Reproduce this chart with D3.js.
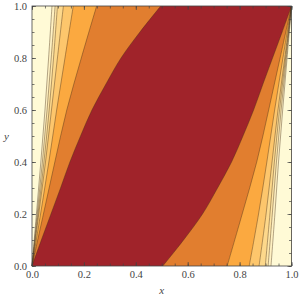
<!DOCTYPE html>
<html>
<head>
<meta charset="utf-8">
<script src="https://cdn.jsdelivr.net/npm/d3@7"></script>
<style>
  body { margin: 0; background: #fff; }
  .tick text { font-family: "Liberation Serif", serif; font-size: 10.5px; fill: #444; }
  .axisLabel { font-family: "Liberation Serif", serif; font-style: italic; font-size: 11px; fill: #444; }
</style>
</head>
<body>
<div id="chart"></div>
<script>
// SVG window
var svgWidth = 300;
var svgHeight = 300;

var margin = { top: 6, right: 8.5, bottom: 34, left: 32 };

var width = svgWidth - margin.left - margin.right;
var height = svgHeight - margin.top - margin.bottom;

// Contour boundaries (x position at each y level)
var yLevels = [0, 0.2, 0.4, 0.6, 0.8, 1.0];

// left side lines, from outermost (pale) to innermost
var leftL1 = [0, 0.017, 0.034, 0.050, 0.064, 0.077];
var leftL2 = [0, 0.020, 0.040, 0.058, 0.074, 0.089];
var leftL3 = [0, 0.023, 0.046, 0.066, 0.083, 0.098];
var leftL4 = [0, 0.026, 0.052, 0.075, 0.098, 0.121];
var leftL5 = [0, 0.033, 0.065, 0.095, 0.127, 0.159];
var leftL6 = [0, 0.044, 0.088, 0.134, 0.190, 0.249];

// right side lines
var rightL1 = [0.921, 0.936, 0.950, 0.966, 0.983, 1];
var rightL2 = [0.910, 0.926, 0.942, 0.960, 0.980, 1];
var rightL3 = [0.899, 0.917, 0.934, 0.954, 0.977, 1];
var rightL4 = [0.875, 0.902, 0.925, 0.948, 0.974, 1];
var rightL5 = [0.837, 0.873, 0.905, 0.935, 0.967, 1];
var rightL6 = [0.752, 0.810, 0.866, 0.912, 0.956, 1];

// red region boundaries (finer)
var redY = [0, 0.1, 0.2, 0.3, 0.4, 0.5, 0.6, 0.7, 0.8, 0.9, 1.0];
var redLeftX = [0, 0.036, 0.073, 0.110, 0.146, 0.187, 0.231, 0.285, 0.343, 0.416, 0.496];
var redRightX = [0.504, 0.584, 0.657, 0.715, 0.769, 0.813, 0.854, 0.890, 0.927, 0.964, 1];

// band colours, outermost to innermost
var bandColors = ["#FFFAD6", "#FFF1C2", "#FEE5A6", "#FDD88B", "#FDC66C", "#FBA940", "#E17E2F", "#A0232A"];

var xTicks = [0, 0.2, 0.4, 0.6, 0.8, 1.0];
var minorTicks = d3.range(0, 1.0001, 0.05);

var svg = d3.select("#chart")
  .append("svg")
  .attr("width", svgWidth)
  .attr("height", svgHeight);

var chartGroup = svg.append("g")
  .attr("transform", `translate(${margin.left}, ${margin.top})`);

var xScale = d3.scaleLinear().domain([0, 1]).range([0, width]);
var yScale = d3.scaleLinear().domain([0, 1]).range([height, 0]);

function pts(xs, ys) {
  return xs.map((x, i) => [x, ys[i]]);
}

// smooth line through the read points
var line = d3.line()
  .x(d => xScale(d[0]))
  .y(d => yScale(d[1]))
  .curve(d3.curveCatmullRom);

var straight = d3.line()
  .x(d => xScale(d[0]))
  .y(d => yScale(d[1]));

// base: red
chartGroup.append("rect")
  .attr("width", width)
  .attr("height", height)
  .attr("fill", bandColors[7]);

var leftLines = [
  pts(leftL1, yLevels), pts(leftL2, yLevels), pts(leftL3, yLevels),
  pts(leftL4, yLevels), pts(leftL5, yLevels), pts(leftL6, yLevels),
  pts(redLeftX, redY)
];
var rightLines = [
  pts(rightL1, yLevels), pts(rightL2, yLevels), pts(rightL3, yLevels),
  pts(rightL4, yLevels), pts(rightL5, yLevels), pts(rightL6, yLevels),
  pts(redRightX, redY)
];

// bands: innermost boundary first, outer ones painted on top
for (var k = 6; k >= 0; k--) {
  chartGroup.append("path")
    .attr("d", line(leftLines[k]) + straight([[0, 1], [0, 0]]).replace("M", "L") + "Z")
    .attr("fill", bandColors[k]);
  chartGroup.append("path")
    .attr("d", line(rightLines[k]) + straight([[1, 1], [1, 0]]).replace("M", "L") + "Z")
    .attr("fill", bandColors[k]);
}

// contour lines
leftLines.concat(rightLines).forEach(function(l) {
  chartGroup.append("path")
    .attr("d", line(l))
    .attr("fill", "none")
    .attr("stroke", "rgba(70,45,25,0.6)")
    .attr("stroke-width", 0.7);
});

// axes with inward ticks
var fmt = d3.format(".1f");
chartGroup.append("g")
  .attr("transform", `translate(0, ${height})`)
  .call(d3.axisBottom(xScale).tickValues(xTicks).tickFormat(fmt).tickSizeInner(-4).tickSizeOuter(0).tickPadding(5));
chartGroup.append("g")
  .attr("transform", `translate(0, ${height})`)
  .call(d3.axisBottom(xScale).tickValues(minorTicks).tickFormat("").tickSizeInner(-2.5).tickSizeOuter(0));
chartGroup.append("g")
  .call(d3.axisLeft(yScale).tickValues(xTicks).tickFormat(fmt).tickSizeInner(-4).tickSizeOuter(0).tickPadding(5));
chartGroup.append("g")
  .call(d3.axisLeft(yScale).tickValues(minorTicks).tickFormat("").tickSizeInner(-2.5).tickSizeOuter(0));
chartGroup.append("g")
  .call(d3.axisTop(xScale).tickValues(xTicks).tickFormat("").tickSizeInner(-4).tickSizeOuter(0));
chartGroup.append("g")
  .call(d3.axisTop(xScale).tickValues(minorTicks).tickFormat("").tickSizeInner(-2.5).tickSizeOuter(0));
chartGroup.append("g")
  .attr("transform", `translate(${width}, 0)`)
  .call(d3.axisRight(yScale).tickValues(xTicks).tickFormat("").tickSizeInner(-4).tickSizeOuter(0));
chartGroup.append("g")
  .attr("transform", `translate(${width}, 0)`)
  .call(d3.axisRight(yScale).tickValues(minorTicks).tickFormat("").tickSizeInner(-2.5).tickSizeOuter(0));

chartGroup.selectAll(".domain").remove();
chartGroup.selectAll(".tick line").attr("stroke", "#444").attr("stroke-width", 0.7);

// frame
chartGroup.append("rect")
  .attr("width", width)
  .attr("height", height)
  .attr("fill", "none")
  .attr("stroke", "#444")
  .attr("stroke-width", 0.8);

// axis labels
chartGroup.append("text")
  .attr("class", "axisLabel")
  .attr("x", width / 2)
  .attr("y", height + 28)
  .attr("text-anchor", "middle")
  .text("x");
chartGroup.append("text")
  .attr("class", "axisLabel")
  .attr("x", -28)
  .attr("y", height / 2)
  .attr("dy", "0.35em")
  .text("y");
</script>
</body>
</html>
